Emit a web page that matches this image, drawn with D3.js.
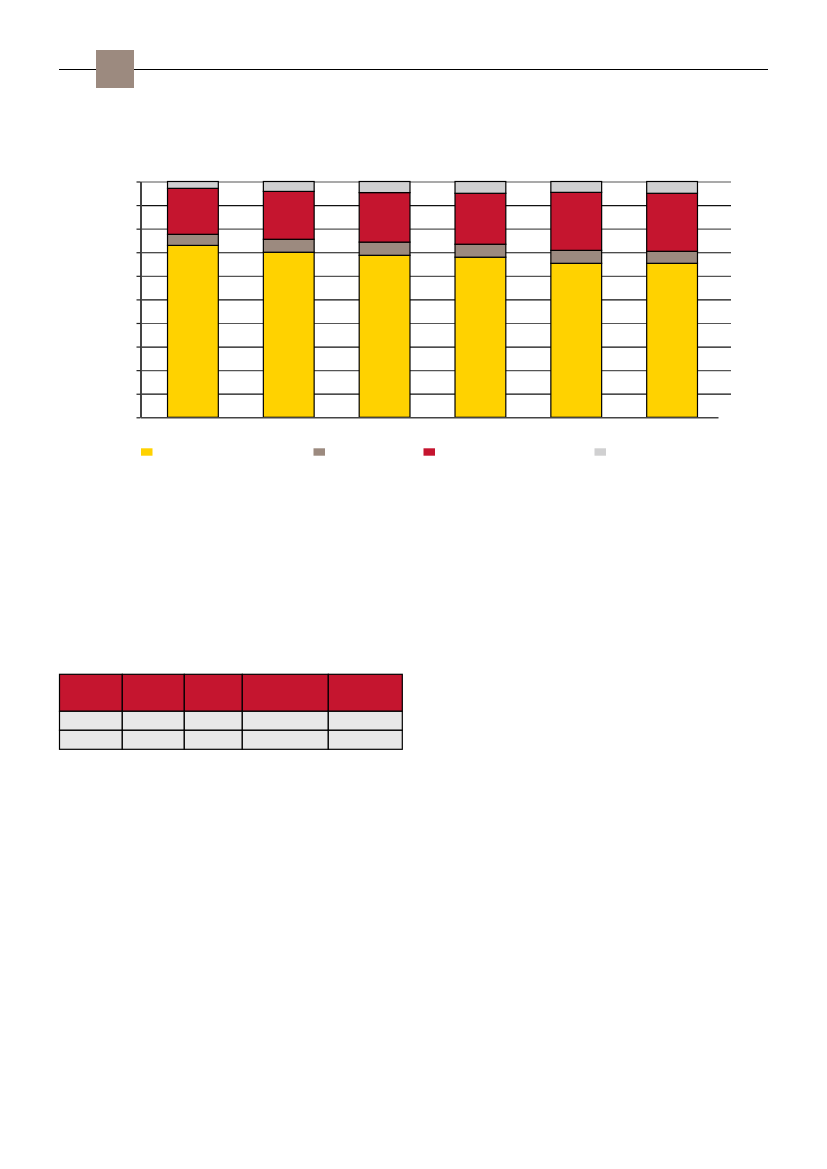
<!DOCTYPE html>
<html>
<head>
<meta charset="utf-8">
<script src="https://cdn.jsdelivr.net/npm/d3@7"></script>
<style>
  body { margin: 0; background: #fff; }
  svg { display: block; }
</style>
</head>
<body>
<div id="page"></div>
<script>
// data: six unlabeled columns, shares in percent
const categories = ['c1', 'c2', 'c3', 'c4', 'c5', 'c6'];
const seriesKeys = ['s1', 's2', 's3', 's4'];
const s1Values = [72.9, 70.0, 68.7, 67.9, 65.3, 65.3];
const s2Values = [4.7, 5.5, 5.6, 5.5, 5.5, 5.1];
const s3Values = [19.5, 20.3, 21.0, 21.6, 24.6, 24.6];
const s4Values = [2.9, 4.2, 4.7, 5.0, 4.6, 5.0];
const yTicks = [0, 10, 20, 30, 40, 50, 60, 70, 80, 90, 100];

const COLORS = ['#FFD200', '#9C8A7F', '#C5152F', '#D0D0D1'];

const FRAME_WIDTH = 827;
const FRAME_HEIGHT = 1169;

const PLOT = {left: 140.5, right: 731, top: 181.5, bottom: 417.3};

const FRAME = d3.select('#page')
    .append('svg')
        .attr('width', FRAME_WIDTH)
        .attr('height', FRAME_HEIGHT);

// header rule with the taupe block
FRAME.append('line')
    .attr('x1', 59).attr('x2', 768)
    .attr('y1', 69.5).attr('y2', 69.5)
    .attr('stroke', '#000')
    .attr('stroke-width', 1.2);

FRAME.append('rect')
    .attr('x', 96).attr('y', 50)
    .attr('width', 38).attr('height', 38)
    .attr('fill', '#9C8A7F');

// build rows for stacking
const rows = categories.map((c, i) => ({
    cat: c, s1: s1Values[i], s2: s2Values[i], s3: s3Values[i], s4: s4Values[i]
}));

const stacked = d3.stack().keys(seriesKeys)(rows);

const X_SCALE = d3.scaleBand()
    .domain(categories)
    .range([145, 720])
    .paddingInner(0.47)
    .paddingOuter(0.235);

const Y_SCALE = d3.scaleLinear()
    .domain([0, 100])
    .range([PLOT.bottom, PLOT.top]);

const COLOR = d3.scaleOrdinal().domain(seriesKeys).range(COLORS);

// gridlines
FRAME.append('g')
    .attr('transform', 'translate(' + PLOT.left + ',0)')
    .call(d3.axisLeft(Y_SCALE).tickValues(yTicks.slice(1)).tickSize(-(PLOT.right - PLOT.left)).tickFormat(''))
    .call(g => g.select('.domain').remove())
    .call(g => g.selectAll('line')
        .attr('stroke', (d, i) => i % 2 === 0 ? '#111' : '#555')
        .attr('stroke-width', 1.2));

// bars
FRAME.append('g')
    .selectAll('g')
    .data(stacked)
    .enter()
    .append('g')
        .attr('fill', d => COLOR(d.key))
    .selectAll('rect')
    .data(d => d)
    .enter()
    .append('rect')
        .attr('x', d => X_SCALE(d.data.cat))
        .attr('width', X_SCALE.bandwidth())
        .attr('y', d => Y_SCALE(d[1]))
        .attr('height', d => Y_SCALE(d[0]) - Y_SCALE(d[1]))
        .attr('stroke', '#000')
        .attr('stroke-width', 1.2);

// y axis with short ticks, no labels
FRAME.append('g')
    .attr('transform', 'translate(' + PLOT.left + ',0)')
    .call(d3.axisLeft(Y_SCALE).tickValues(yTicks).tickSize(4).tickSizeOuter(0).tickFormat(''))
    .call(g => g.select('.domain').attr('stroke', '#444').attr('stroke-width', 2))
    .call(g => g.selectAll('line').attr('stroke', '#222').attr('stroke-width', 1.2));

// x axis baseline
FRAME.append('g')
    .attr('transform', 'translate(0,' + PLOT.bottom + ')')
    .call(d3.axisBottom(d3.scaleLinear().range([PLOT.left, 718])).tickValues([]).tickSizeOuter(0))
    .call(g => g.select('.domain').attr('stroke', '#444').attr('stroke-width', 1.5));

// legend swatches (labels are absent in the source)
const LEGEND_X = [141, 313.5, 423.5, 594.5];
FRAME.append('g')
    .selectAll('rect')
    .data(seriesKeys)
    .enter()
    .append('rect')
        .attr('x', (d, i) => LEGEND_X[i])
        .attr('y', 448.3)
        .attr('width', 11.5)
        .attr('height', 7.4)
        .attr('fill', d => COLOR(d));

// empty table below
const COL_EDGES = [59.5, 122.3, 184.3, 242.3, 328.3, 402.3];
const ROW_EDGES = [674.3, 711.3, 730.3, 749.3];
const TABLE = FRAME.append('g');
for (let r = 0; r < ROW_EDGES.length - 1; r++) {
    for (let c = 0; c < COL_EDGES.length - 1; c++) {
        TABLE.append('rect')
            .attr('x', COL_EDGES[c])
            .attr('y', ROW_EDGES[r])
            .attr('width', COL_EDGES[c + 1] - COL_EDGES[c])
            .attr('height', ROW_EDGES[r + 1] - ROW_EDGES[r])
            .attr('fill', r === 0 ? '#C5152F' : '#E8E8E8')
            .attr('stroke', '#000')
            .attr('stroke-width', 1.2);
    }
}
</script>
</body>
</html>
